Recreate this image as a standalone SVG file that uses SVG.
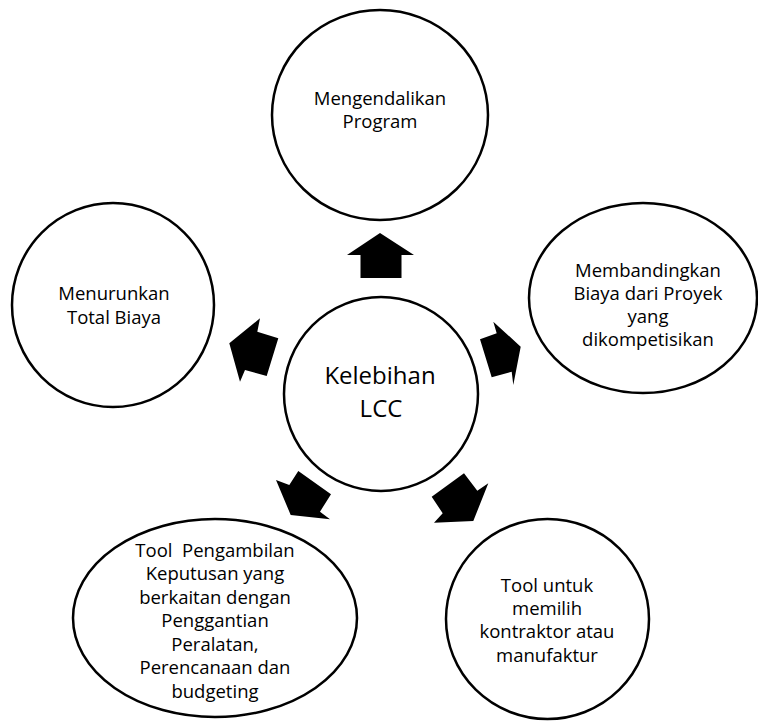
<svg xmlns="http://www.w3.org/2000/svg" width="758" height="721" viewBox="0 0 758 721">
<style>
.node{fill:#fff;stroke:#000;stroke-width:2.5}
.t{font-family:"Open Sans","Noto Sans",sans-serif;font-size:18.5px;fill:#000;text-anchor:middle}
.big{font-size:24px}
.arr{fill:#000;stroke:none}
</style>
<rect width="758" height="721" fill="#fff"/>
<g id="connectors">
<polygon class="arr" points="380,233 414,255 401.5,255 401.5,278 360.5,278 360.5,255 347,255"/>
<polygon class="arr" points="229.3,343.3 260,318.3 257.3,331.7 278.3,338.3 266.7,376 245,370 240,381.7"/>
<polygon class="arr" points="520.7,346.7 493.3,321.7 496.7,333.3 480,339.3 491.7,377.3 511.7,371.7 513.3,385"/>
<polygon class="arr" points="290.7,515 276,480 289.3,485 298.3,471 331,494.3 320,511.7 330,519.3"/>
<polygon class="arr" points="431.7,496.7 464,473.3 477.3,490.7 488.3,483.3 473.3,521 434,522.7 442.7,513.3"/>
</g>
<g id="center">
<ellipse class="node" cx="381" cy="394" rx="97" ry="97"/>
<text class="t big" x="380" y="384">Kelebihan</text>
<text class="t big" x="381" y="417">LCC</text>
</g>
<g id="top">
<ellipse class="node" cx="380" cy="115" rx="108" ry="105"/>
<text class="t" x="380" y="105">Mengendalikan</text>
<text class="t" x="380" y="128">Program</text>
</g>
<g id="left">
<ellipse class="node" cx="113" cy="305" rx="101" ry="102"/>
<text class="t" x="114" y="300">Menurunkan</text>
<text class="t" x="114" y="324">Total Biaya</text>
</g>
<g id="right">
<ellipse class="node" cx="643" cy="298" rx="114" ry="95"/>
<text class="t" x="648" y="277">Membandingkan</text>
<text class="t" x="648" y="300">Biaya dari Proyek</text>
<text class="t" x="648" y="323">yang</text>
<text class="t" x="648" y="346">dikompetisikan</text>
</g>
<g id="bottom-left">
<ellipse class="node" cx="215" cy="618" rx="142" ry="99"/>
<text class="t" x="215" y="557" style="white-space:pre">Tool  Pengambilan</text>
<text class="t" x="215" y="580">Keputusan yang</text>
<text class="t" x="215" y="604">berkaitan dengan</text>
<text class="t" x="215" y="627">Penggantian</text>
<text class="t" x="215" y="651">Peralatan,</text>
<text class="t" x="215" y="674">Perencanaan dan</text>
<text class="t" x="215" y="698">budgeting</text>
</g>
<g id="bottom-right">
<ellipse class="node" cx="547.5" cy="619" rx="101.5" ry="100"/>
<text class="t" x="547" y="592">Tool untuk</text>
<text class="t" x="547" y="615">memilih</text>
<text class="t" x="547" y="638">kontraktor atau</text>
<text class="t" x="547" y="662">manufaktur</text>
</g>
</svg>
